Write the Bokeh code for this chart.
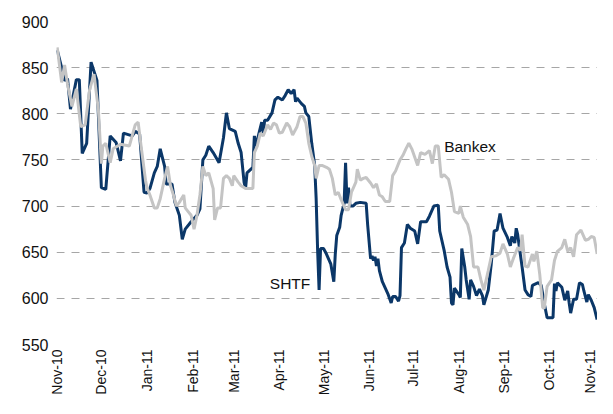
import pandas as pd
from math import pi
from bokeh.plotting import figure
from bokeh.models import FixedTicker, DatetimeTickFormatter, Range1d, Label
from bokeh.embed import file_html
from bokeh.resources import INLINE

shtf_dates = ["2010-11-01","2010-11-04","2010-11-06","2010-11-08","2010-11-10","2010-11-14","2010-11-16","2010-11-18","2010-11-21","2010-11-24","2010-11-28",
"2010-12-01","2010-12-04","2010-12-07","2010-12-11","2010-12-14","2010-12-16","2010-12-22","2010-12-24","2010-12-27","2010-12-30",
"2011-01-01","2011-01-03","2011-01-06","2011-01-08","2011-01-10","2011-01-13","2011-01-14","2011-01-18","2011-01-20","2011-01-23","2011-01-25","2011-01-27","2011-01-31",
"2011-02-04","2011-02-06","2011-02-08","2011-02-10","2011-02-12","2011-02-15","2011-02-19","2011-02-22","2011-02-24","2011-02-26",
"2011-03-02","2011-03-04","2011-03-06","2011-03-08","2011-03-09","2011-03-10","2011-03-14","2011-03-15","2011-03-16","2011-03-18","2011-03-20","2011-03-21","2011-03-22","2011-03-24","2011-03-27","2011-03-29","2011-03-31",
"2011-04-03","2011-04-05","2011-04-07","2011-04-09","2011-04-11","2011-04-12","2011-04-13","2011-04-16","2011-04-18","2011-04-19","2011-04-21","2011-04-23","2011-04-25","2011-04-26","2011-04-27","2011-04-28","2011-04-29",
"2011-05-01","2011-05-03","2011-05-06","2011-05-08","2011-05-09","2011-05-10","2011-05-12","2011-05-13","2011-05-15","2011-05-16","2011-05-17","2011-05-18","2011-05-19","2011-05-21","2011-05-23","2011-05-26","2011-05-30","2011-05-31",
"2011-06-02","2011-06-03","2011-06-04","2011-06-05","2011-06-06","2011-06-07","2011-06-08","2011-06-10","2011-06-12","2011-06-14","2011-06-16","2011-06-17","2011-06-19","2011-06-21","2011-06-22","2011-06-23","2011-06-25","2011-06-27","2011-06-29",
"2011-07-02","2011-07-04","2011-07-06","2011-07-10","2011-07-12","2011-07-15","2011-07-18","2011-07-19","2011-07-22","2011-07-24","2011-07-26","2011-07-27","2011-07-28","2011-07-29",
"2011-08-01","2011-08-02","2011-08-03","2011-08-05","2011-08-06","2011-08-08","2011-08-09","2011-08-11","2011-08-13","2011-08-15","2011-08-17","2011-08-18","2011-08-21","2011-08-23","2011-08-25","2011-08-27","2011-08-29","2011-08-31",
"2011-09-03","2011-09-05","2011-09-06","2011-09-08","2011-09-09","2011-09-10","2011-09-11","2011-09-13","2011-09-15","2011-09-17","2011-09-19","2011-09-20","2011-09-24","2011-09-26","2011-09-28","2011-09-30",
"2011-10-04","2011-10-05","2011-10-06","2011-10-07","2011-10-10","2011-10-12","2011-10-14","2011-10-15","2011-10-16","2011-10-18","2011-10-20","2011-10-22","2011-10-24","2011-10-25","2011-10-27","2011-10-28","2011-10-30",
"2011-11-01","2011-11-03"]
shtf_values = [869,850,836,838,805,837,837,757,768,856,836,
720,718,776,769,749,779,776,781,778,715,
714,719,736,743,762,743,724,724,704,690,664,675,683,
690,697,750,755,765,758,747,774,801,784,
781,768,758,726,719,736,742,776,765,778,791,779,793,793,801,815,818,
815,820,826,822,826,813,817,811,808,801,797,768,744,708,652,609,654,
654,648,637,618,648,668,677,690,703,747,703,720,700,700,703,704,703,680,
643,646,641,645,635,643,630,618,611,604,595,602,602,597,603,655,660,680,676,
673,659,683,683,689,700,701,673,652,634,623,595,593,611,
604,601,654,634,620,599,620,613,603,610,603,593,609,637,673,674,692,676,
666,657,667,660,676,669,657,634,609,604,602,614,617,614,595,579,
579,616,608,617,612,598,608,595,584,599,599,617,615,608,596,604,598,
590,577]

bankex_dates = ["2010-11-01","2010-11-04","2010-11-06","2010-11-08","2010-11-11","2010-11-14","2010-11-17","2010-11-20","2010-11-23","2010-11-26","2010-11-29",
"2010-12-01","2010-12-02","2010-12-04","2010-12-07","2010-12-09","2010-12-14","2010-12-20","2010-12-24","2010-12-26","2010-12-28","2010-12-31",
"2011-01-01","2011-01-03","2011-01-06","2011-01-08","2011-01-10","2011-01-13","2011-01-15","2011-01-17","2011-01-19","2011-01-21","2011-01-23","2011-01-26","2011-01-27","2011-01-29","2011-01-31",
"2011-02-02","2011-02-04","2011-02-06","2011-02-08","2011-02-10","2011-02-12","2011-02-15","2011-02-16","2011-02-18","2011-02-20","2011-02-22","2011-02-24","2011-02-26","2011-02-28",
"2011-03-01","2011-03-04","2011-03-06","2011-03-09","2011-03-11","2011-03-14","2011-03-15","2011-03-17","2011-03-19","2011-03-21","2011-03-24","2011-03-26","2011-03-28","2011-03-30",
"2011-04-01","2011-04-03","2011-04-06","2011-04-08","2011-04-10","2011-04-13","2011-04-15","2011-04-17","2011-04-19","2011-04-21","2011-04-23","2011-04-25","2011-04-26","2011-04-28","2011-04-30",
"2011-05-03","2011-05-05","2011-05-07","2011-05-09","2011-05-11","2011-05-13","2011-05-16","2011-05-18","2011-05-20","2011-05-23","2011-05-24","2011-05-26","2011-05-28","2011-05-30",
"2011-06-02","2011-06-04","2011-06-06","2011-06-08","2011-06-10","2011-06-12","2011-06-15","2011-06-17","2011-06-19","2011-06-22","2011-06-24","2011-06-26","2011-06-28","2011-06-30",
"2011-07-04","2011-07-06","2011-07-09","2011-07-12","2011-07-14","2011-07-16","2011-07-18","2011-07-19","2011-07-20","2011-07-22","2011-07-25","2011-07-27","2011-07-29",
"2011-08-01","2011-08-02","2011-08-04","2011-08-07","2011-08-09","2011-08-11","2011-08-14","2011-08-16","2011-08-18","2011-08-21","2011-08-23","2011-08-26","2011-08-29","2011-08-31",
"2011-09-03","2011-09-05","2011-09-07","2011-09-10","2011-09-12","2011-09-13","2011-09-15","2011-09-17","2011-09-20","2011-09-21","2011-09-23","2011-09-25","2011-09-27","2011-09-28","2011-09-30",
"2011-10-03","2011-10-05","2011-10-07","2011-10-10","2011-10-12","2011-10-14","2011-10-16","2011-10-18","2011-10-20","2011-10-23","2011-10-26","2011-10-28","2011-10-30",
"2011-11-01","2011-11-03"]
bankex_values = [872,834,853,832,808,827,786,788,826,843,804,
746,765,768,747,762,767,765,788,791,765,728,
720,712,698,698,708,730,743,722,712,700,704,712,698,694,690,
675,690,712,743,733,736,719,685,698,698,730,733,730,722,
733,726,722,719,719,719,758,765,779,776,788,783,790,788,
779,780,790,786,777,786,797,797,790,768,754,744,730,744,744,
742,740,730,712,715,707,696,696,715,726,740,728,730,731,
725,720,724,712,710,705,705,733,738,750,755,762,768,762,
744,758,756,760,746,765,765,748,731,734,729,715,694,
692,700,688,680,667,634,634,620,609,630,645,646,649,659,
648,634,643,655,652,669,635,634,648,640,651,626,590,589,613,
620,641,651,655,664,651,655,645,669,674,663,664,667,
666,648]

tick_months = ["2010-11-01","2010-12-01","2011-01-01","2011-02-01","2011-03-01","2011-04-01","2011-05-01",
               "2011-06-01","2011-07-01","2011-08-01","2011-09-01","2011-10-01","2011-11-01"]
y_ticks = [550, 600, 650, 700, 750, 800, 850, 900]

series_labels = ["SHTF", "Bankex"]
label_dates = ["2011-04-22", "2011-07-22"]
label_values = [616, 765]

FONT = "Liberation Sans"

def ms(d):
    return pd.Timestamp(d).value / 1e6

p = figure(width=597, height=398, x_axis_type="datetime", output_backend="svg",
           toolbar_location=None,
           x_range=Range1d(ms("2010-10-31") + 12 * 3600 * 1000, ms("2011-11-03") + 6 * 3600 * 1000),
           y_range=Range1d(550, 900),
           min_border_left=56, min_border_right=0, min_border_top=21, min_border_bottom=0)
p.outline_line_color = None
p.background_fill_color = "white"
p.border_fill_color = "white"

p.line([pd.Timestamp(d) for d in shtf_dates], shtf_values, line_color="#0b3768", line_width=3)
p.line([pd.Timestamp(d) for d in bankex_dates], bankex_values, line_color="#c4c4c4", line_width=3)

p.xgrid.grid_line_color = None
p.ygrid.grid_line_color = "#a6a6a6"
p.ygrid.grid_line_dash = "8 7"
p.ygrid.grid_line_width = 1
p.ygrid.ticker = FixedTicker(ticks=y_ticks)

p.yaxis.ticker = FixedTicker(ticks=y_ticks)
p.xaxis.ticker = FixedTicker(ticks=[ms(d) for d in tick_months])
fmt = "%b-%y"
p.xaxis.formatter = DatetimeTickFormatter(days=fmt, months=fmt, years=fmt, hours=fmt, minutes=fmt)
p.xaxis.major_label_orientation = pi / 2

for ax in (p.xaxis, p.yaxis):
    ax.axis_line_color = None
    ax.major_tick_line_color = None
    ax.minor_tick_line_color = None
    ax.major_tick_out = 0
    ax.major_tick_in = 0
    ax.minor_tick_out = 0
    ax.minor_tick_in = 0
    ax.major_label_text_color = "#111111"
    ax.major_label_text_font = FONT
p.yaxis.major_label_text_font_size = "16px"
p.xaxis.major_label_text_font_size = "14px"
p.yaxis.major_label_standoff = 8
p.xaxis.major_label_standoff = 5

aligns = ["right", "left"]
for t, d, v, a in zip(series_labels, label_dates, label_values, aligns):
    p.add_layout(Label(x=ms(d), y=v, text=t, text_align=a, text_baseline="middle",
                       text_font=FONT, text_font_size="15.5px", text_color="#111111"))

open("out.html", "w").write(file_html(p, INLINE))
